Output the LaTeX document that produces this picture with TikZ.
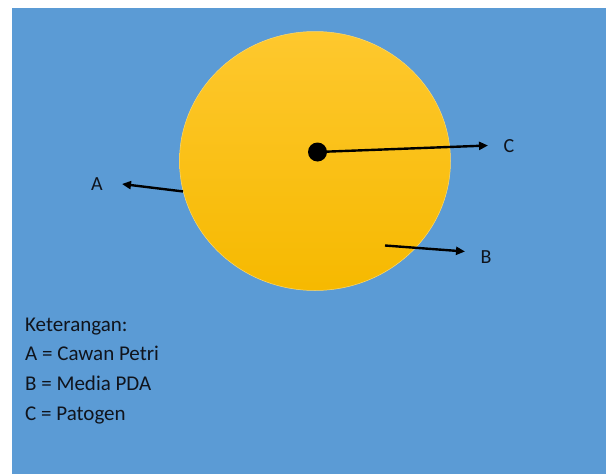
\documentclass[tikz,border=0pt]{standalone}
\usepackage{fontspec}
\setmainfont{Carlito}
\usetikzlibrary{arrows.meta, shapes.geometric}
\definecolor{bgBlue}{HTML}{5B9BD5}
\definecolor{dishTop}{HTML}{FEC82E}
\definecolor{dishBottom}{HTML}{F6B900}
\definecolor{inkDark}{HTML}{10141C}

\begin{document}
\begin{tikzpicture}[x=1pt, y=-1pt,
    dish/.style={ellipse, minimum width=271pt, minimum height=259pt,
                 top color=dishTop, bottom color=dishBottom,
                 draw=dishTop!70!white, line width=0.5pt},
    spot/.style={circle, fill=black, minimum size=19pt, inner sep=0pt},
    lbl/.style={font=\fontsize{20}{22}\selectfont, text=inkDark, inner sep=0pt},
    pointer/.style={-{Triangle[length=9pt, width=8pt]}, line width=2.4pt, black},
    legend/.style={font=\fontsize{21}{24}\selectfont, text=inkDark,
                   anchor=base west, inner sep=0pt},
  ]
    % ─── background ───
    \useasboundingbox (0,0) rectangle (606,474);
    \fill[white] (0,0) rectangle (606,474);
    \fill[bgBlue] (12,7.5) rectangle (606,474);

    % ─── petri dish with agar ───
    \node[dish] (cawan) at (315,161) {};
    \node[spot] (patogen) at (317.5,152) {};

    % ─── labels ───
    \node[lbl] (labA) at (97,184) {A};
    \node[lbl] (labB) at (486,257) {B};
    \node[lbl] (labC) at (509,146) {C};

    \coordinate (tipA) at (122,184);
    \coordinate (tailB) at (385,245.5);
    \coordinate (tipB) at (465,251.5);
    \coordinate (tipC) at (488,145.5);

    \draw[pointer] (cawan.193) -- (tipA);
    \draw[pointer] (tailB) -- (tipB);
    \draw[pointer] (patogen.center) -- (tipC);

    % ─── legend ───
    \node[legend] (ket) at (25,331) {Keterangan:};
    \node[legend] (ketA) at (25,360.7) {A = Cawan Petri};
    \node[legend] (ketB) at (25,390.4) {B = Media PDA};
    \node[legend] (ketC) at (25,420) {C = Patogen};
\end{tikzpicture}
\end{document}
